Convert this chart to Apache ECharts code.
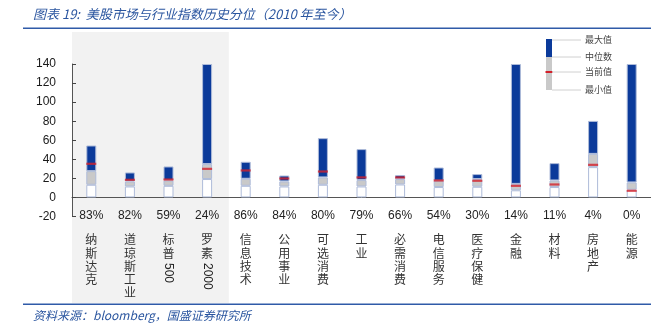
<!DOCTYPE html>
<html>
<head>
<meta charset="utf-8">
<script src="https://cdn.jsdelivr.net/npm/echarts@6/dist/echarts.min.js"></script>
<style>
  html, body { margin: 0; padding: 0; background: #fff; }
  #chart { width: 651px; height: 327px; }
</style>
</head>
<body>
<div id="chart"></div>
<script>
// Index names (market indices first, then S&P sectors)
const categories = ['纳斯达克', '道琼斯工业', '标普500', '罗素2000', '信息技术', '公用事业', '可选消费',
  '工业', '必需消费', '电信服务', '医疗保健', '金融', '材料', '房地产', '能源'];
// Historical percentile of the current value (%)
const percentiles = [83, 82, 59, 24, 86, 84, 80, 79, 66, 54, 30, 14, 11, 4, 0];
// Valuation range since 2010
const maxValues     = [54.5, 26.2, 32.5, 140, 37.4, 23.0, 62.2, 50.7, 23.4, 31.4, 24.5, 140, 36.0, 80.3, 140];
const medianValues  = [27.6, 16.8, 17.8, 35.0, 19.6, 16.8, 21.0, 18.2, 19.3, 17.5, 19.3, 14.2, 17.8, 45.7, 15.8];
const minValues     = [13.3, 11.5, 12.2, 19.3, 12.2, 11.5, 13.3, 11.5, 13.6, 10.9, 11.2, 7.5, 10.9, 31.8, 8.2];
const currentValues = [35.3, 18.5, 18.8, 30.0, 28.3, 19.9, 27.2, 21.0, 21.0, 17.8, 17.5, 12.2, 13.6, 34.2, 7.0];
// Value axis ticks
const yTicks = { min: -20, max: 140, interval: 20 };
// Legend entries of the box glyph
const legendItems = ['最大值', '中位数', '当前值', '最小值'];
// Number of broad-market indices (shaded group)
const marketCount = 4;

const BLUE = '#0b3a9a';
const GREY = '#c9c9c9';
const RED = '#d3202a';
const EDGE = '#aebbd9';
const TEXT_BLUE = '#2a559f';

const grid = { left: 72, top: 64, width: 588, height: 152.5 };

const lowerPart = minValues.slice();
const midPart = medianValues.map((v, i) => +(v - minValues[i]).toFixed(2));
const upperPart = maxValues.map((v, i) => +(v - medianValues[i]).toFixed(2));

const chart = echarts.init(document.getElementById('chart'), null, { renderer: 'canvas' });

const barCommon = {
  type: 'bar',
  stack: 'range',
  barWidth: 10,
  silent: true,
  animation: false
};

const option = {
  animation: false,
  grid: grid,
  xAxis: {
    type: 'category',
    data: categories,
    boundaryGap: true,
    axisLine: { lineStyle: { color: '#555', width: 1 } },
    axisTick: { inside: true, length: 4, lineStyle: { color: '#444' } },
    axisLabel: {
      interval: 0,
      margin: -17.5,
      formatter: function (value, idx) {
        const chars = value.split('').filter(c => !/[0-9]/.test(c));
        return '{p|' + percentiles[idx] + '%}\n' + chars.map(c => '{c|' + c + '}').join('\n');
      },
      rich: {
        p: { fontFamily: 'Liberation Sans', fontSize: 12, lineHeight: 34, color: '#222' },
        c: { fontFamily: 'Noto Sans CJK SC', fontSize: 12, lineHeight: 13.3, color: '#333' }
      }
    },
    splitLine: { show: false }
  },
  yAxis: {
    type: 'value',
    min: yTicks.min,
    max: yTicks.max,
    interval: yTicks.interval,
    axisLine: { show: true, lineStyle: { color: '#555', width: 1 } },
    axisTick: { show: true, inside: true, length: 4, lineStyle: { color: '#444' } },
    axisLabel: { margin: 16, fontFamily: 'Liberation Sans', fontSize: 12, color: '#1a1a1a' },
    splitLine: { show: false }
  },
  series: [
    Object.assign({}, barCommon, {
      name: '最小值',
      data: lowerPart,
      itemStyle: { color: '#ffffff', borderColor: EDGE, borderWidth: 1 }
    }),
    Object.assign({}, barCommon, {
      name: '中位数',
      data: midPart,
      itemStyle: { color: GREY, borderColor: EDGE, borderWidth: 1 }
    }),
    Object.assign({}, barCommon, {
      name: '最大值',
      data: upperPart,
      itemStyle: { color: BLUE, borderColor: EDGE, borderWidth: 1 }
    }),
    {
      name: '当前值',
      type: 'scatter',
      data: currentValues,
      symbol: 'rect',
      symbolSize: [10, 2.2],
      itemStyle: { color: RED },
      z: 5,
      silent: true,
      animation: false
    }
  ]
};

chart.setOption(option);

// Decorations: shading, title, rules, legend glyph, rotated digits
function buildGraphics() {
  const band = grid.width / categories.length;
  const shadeRight = grid.left + band * marketCount;
  const els = [];

  els.push({
    type: 'rect', z: -10, silent: true,
    shape: { x: grid.left, y: 32, width: shadeRight - grid.left, height: 271 },
    style: { fill: '#f2f2f2' }
  });

  // Title and rules
  els.push({
    type: 'text', silent: true,
    style: {
      x: 33, y: 14, text: '图表 19:  美股市场与行业指数历史分位（2010 年至今）',
      fontFamily: 'Noto Sans CJK SC', fontStyle: 'italic', fontSize: 13,
      fill: TEXT_BLUE, verticalAlign: 'middle', align: 'left'
    }
  });
  els.push({ type: 'rect', silent: true, shape: { x: 23, y: 27.5, width: 628, height: 1.6 }, style: { fill: '#2f5aa8' } });
  els.push({ type: 'rect', silent: true, shape: { x: 23, y: 303.5, width: 628, height: 1.6 }, style: { fill: '#2f5aa8' } });
  els.push({
    type: 'text', silent: true,
    style: {
      x: 33, y: 315, text: '资料来源：bloomberg，国盛证券研究所',
      fontFamily: 'Noto Sans CJK SC', fontStyle: 'italic', fontSize: 12,
      fill: TEXT_BLUE, verticalAlign: 'middle', align: 'left'
    }
  });

  // Legend glyph
  const lx = 546, lw = 6;
  const ly = [40, 57, 72, 90];
  els.push({ type: 'rect', silent: true, shape: { x: lx, y: ly[0] - 1, width: lw, height: ly[1] - ly[0] + 1 }, style: { fill: BLUE } });
  els.push({ type: 'rect', silent: true, shape: { x: lx, y: ly[1], width: lw, height: ly[3] - ly[1] }, style: { fill: GREY } });
  els.push({ type: 'rect', silent: true, shape: { x: lx - 0.5, y: ly[2] - 1, width: lw + 1, height: 2 }, style: { fill: RED } });
  legendItems.forEach((t, i) => {
    els.push({ type: 'line', silent: true, shape: { x1: lx + lw, y1: ly[i], x2: 581, y2: ly[i] }, style: { stroke: '#d0d0d0', lineWidth: 1 } });
    els.push({
      type: 'text', silent: true,
      style: { x: 585, y: ly[i], text: t, fontFamily: 'Noto Sans CJK SC', fontSize: 9, fill: '#444', verticalAlign: 'middle', align: 'left' }
    });
  });

  // Digits in index names are set sideways, as in vertical CJK text
  categories.forEach((name, i) => {
    const digits = name.replace(/[^0-9]/g, '');
    if (!digits) return;
    const px = chart.convertToPixel({ xAxisIndex: 0 }, name);
    els.push({
      type: 'text', silent: true,
      x: px, y: 263, rotation: -Math.PI / 2,
      style: { x: 0, y: 0, text: digits, fontFamily: 'Liberation Sans', fontSize: 12, fill: '#222', align: 'left', verticalAlign: 'middle' }
    });
  });
  return els;
}

chart.setOption({ graphic: { elements: buildGraphics() } });
</script>
</body>
</html>
